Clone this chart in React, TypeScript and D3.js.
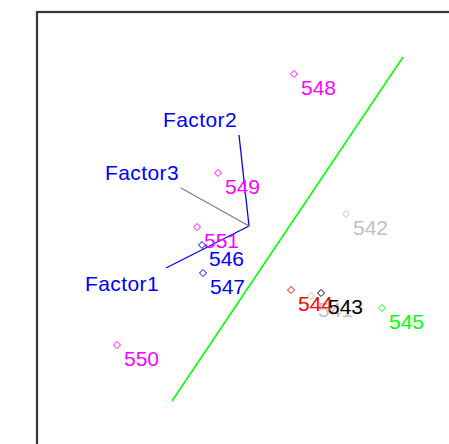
import React from 'react';
import * as d3 from 'd3';

// observation scores (arbitrary units, factor origin at 0,0)
const pointIds = ['548', '549', '551', '546', '547', '542', '541', '544', '543', '545', '550'];
const pointX = [0.225, -0.155, -0.26, -0.235, -0.23, 0.485, 0.31, 0.21, 0.36, 0.665, -0.66];
const pointY = [0.76, 0.265, -0.005, -0.095, -0.235, 0.06, -0.35, -0.32, -0.335, -0.41, -0.595];
const pointColors = ['#ff00ff', '#ff00ff', '#ff00ff', '#0000ff', '#0000ff', '#c0c0c0', '#c0c0c0', '#ff0000', '#000000', '#00ff00', '#ff00ff'];

// factor loadings
const factorNames = ['Factor1', 'Factor2', 'Factor3'];
const factorX = [-0.415, -0.05, -0.34];
const factorY = [-0.21, 0.455, 0.19];
const factorLineColors = ['#0000ff', '#0000ff', '#808080'];

// separating line
const sepX = [-0.385, 0.77];
const sepY = [-0.875, 0.845];

const W = 449;
const H = 444;

const App: React.FC = () => {
  const x = d3.scaleLinear().domain([-1, 1]).range([49, 449]);
  const y = d3.scaleLinear().domain([-1, 1]).range([426, 26]);
  const font = '"Liberation Sans", Arial, sans-serif';

  const diamond = (cx: number, cy: number, r = 3.5) =>
    `M${cx},${cy - r}L${cx + r},${cy}L${cx},${cy + r}L${cx - r},${cy}Z`;

  const sepLine = d3.line<number>()
    .x(i => x(sepX[i]))
    .y(i => y(sepY[i]));

  return (
    <svg width={W} height={H} style={{ position: 'absolute', left: 0, top: 0, background: '#fff' }}>
      <rect x={37} y={12} width={W + 20} height={H + 20} fill="#fff" stroke="#383838" strokeWidth={2.2} />

      <path d={sepLine([0, 1]) ?? ''} stroke="#00ff00" strokeWidth={1.5} fill="none" />

      {factorNames.map((name, i) => {
        const ex = x(factorX[i]);
        const ey = y(factorY[i]);
        const below = factorY[i] < 0;
        return (
          <g key={name}>
            <line x1={x(0)} y1={y(0)} x2={ex} y2={ey} stroke={factorLineColors[i]} strokeWidth={1.3} />
            <text
              x={ex - (below ? 7 : 2)}
              y={ey + (below ? 23 : -8)}
              textAnchor="end"
              fill="#0000ff"
              fontFamily={font}
              fontSize={21}
              letterSpacing={0.4}
            >
              {name}
            </text>
          </g>
        );
      })}

      {pointIds.map((id, i) => {
        const cx = x(pointX[i]);
        const cy = y(pointY[i]);
        return (
          <g key={id}>
            <path d={diamond(cx, cy)} fill="none" stroke={pointColors[i]} strokeWidth={1} />
            <text x={cx + 7} y={cy + 21} fill={pointColors[i]} fontFamily={font} fontSize={21}>
              {id}
            </text>
          </g>
        );
      })}
    </svg>
  );
};

export default App;
